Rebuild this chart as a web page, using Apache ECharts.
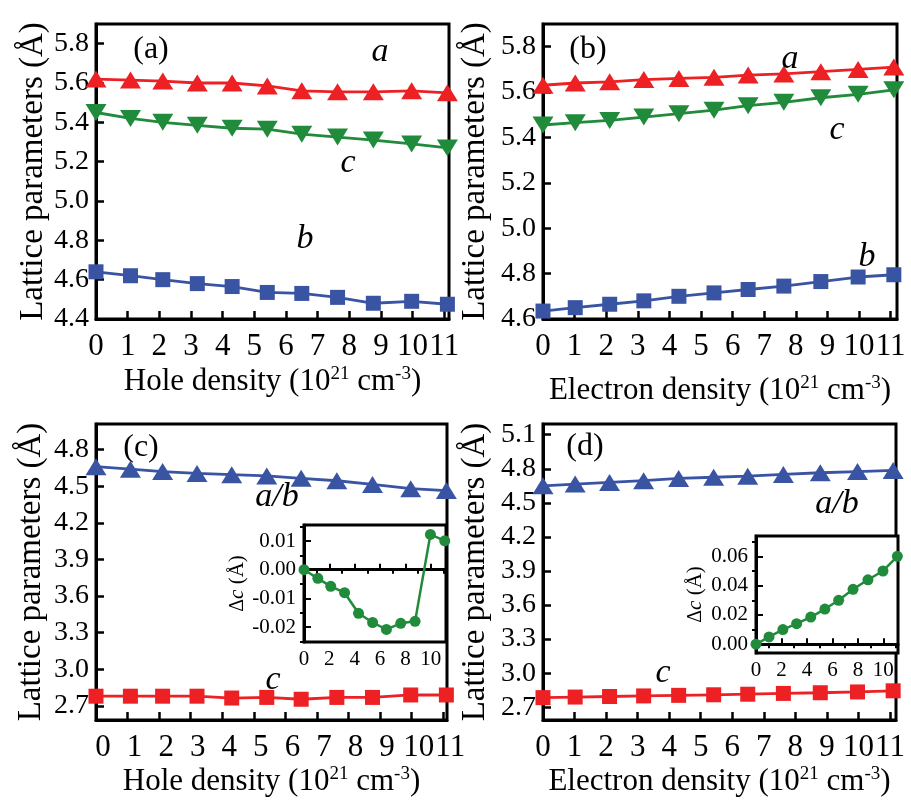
<!DOCTYPE html>
<html>
<head>
<meta charset="utf-8">
<script src="https://cdn.jsdelivr.net/npm/echarts@6/dist/echarts.min.js"></script>
<style>
html,body{margin:0;padding:0;background:#fff;}
#chart{width:911px;height:802px;}
</style>
</head>
<body>
<div id="chart"></div>
<script>
// ---------- data ----------
const holeX = [0, 1.09, 2.11, 3.2, 4.3, 5.41, 6.5, 7.63, 8.76, 9.97, 11.1];
const elecX = [0, 1.02, 2.11, 3.19, 4.3, 5.41, 6.49, 7.62, 8.79, 9.97, 11.1];

// panel (a): hole doping, a / c / b
const holeA = [5.62, 5.615, 5.61, 5.60, 5.60, 5.585, 5.56, 5.555, 5.555, 5.56, 5.55];
const holeC = [5.45, 5.42, 5.40, 5.385, 5.37, 5.365, 5.34, 5.325, 5.31, 5.29, 5.27];
const holeB = [4.64, 4.62, 4.60, 4.58, 4.565, 4.535, 4.53, 4.51, 4.48, 4.49, 4.475];

// panel (b): electron doping, a / c / b
const elecA = [5.63, 5.64, 5.645, 5.655, 5.66, 5.665, 5.675, 5.68, 5.69, 5.70, 5.71];
const elecC = [5.455, 5.465, 5.475, 5.49, 5.505, 5.52, 5.54, 5.555, 5.575, 5.59, 5.61];
const elecB = [4.635, 4.65, 4.665, 4.68, 4.70, 4.715, 4.73, 4.745, 4.765, 4.785, 4.795];

// panel (c): hole doping, a/b and c
const holeAB = [4.66, 4.64, 4.62, 4.605, 4.595, 4.585, 4.565, 4.545, 4.515, 4.48, 4.465];
const holeCt = [2.78, 2.78, 2.78, 2.78, 2.765, 2.77, 2.755, 2.77, 2.77, 2.79, 2.79];

// panel (d): electron doping, a/b and c
const elecAB = [4.65, 4.665, 4.68, 4.695, 4.715, 4.725, 4.735, 4.75, 4.765, 4.775, 4.785];
const elecCt = [2.785, 2.79, 2.795, 2.80, 2.805, 2.81, 2.815, 2.822, 2.828, 2.835, 2.845];

// insets: delta c
const holeDc = [0, -0.003, -0.0058, -0.008, -0.0152, -0.0184, -0.0208, -0.0187, -0.018, 0.0123, 0.0101];
const elecDc = [0, 0.005, 0.010, 0.014, 0.0185, 0.024, 0.030, 0.0375, 0.044, 0.050, 0.060];

// tick values
const xTicks = [0, 1, 2, 3, 4, 5, 6, 7, 8, 9, 10, 11];
const yTicksA = [4.4, 4.6, 4.8, 5.0, 5.2, 5.4, 5.6, 5.8];
const yTicksB = [4.6, 4.8, 5.0, 5.2, 5.4, 5.6, 5.8];
const yTicksC = [2.7, 3.0, 3.3, 3.6, 3.9, 4.2, 4.5, 4.8];
const yTicksD = [2.7, 3.0, 3.3, 3.6, 3.9, 4.2, 4.5, 4.8, 5.1];
const insetXMajor = [0, 2, 4, 6, 8, 10];
const insetXMinor = [1, 3, 5, 7, 9, 11];
const insetYMajorC = [-0.02, -0.01, 0, 0.01];
const insetYMinorC = [-0.025, -0.015, -0.005, 0.005, 0.015];
const insetYMajorD = [0, 0.02, 0.04, 0.06];
const insetYMinorD = [0.01, 0.03, 0.05, 0.07];

// ---------- style ----------
const FONT = 'Liberation Serif';
const RED = '#ED2024', GREEN = '#1F8B3B', BLUE = '#3A54A4';
const supRich = { sup: { fontSize: 19, fontFamily: FONT, color: '#000', verticalAlign: 'top', lineHeight: 34 } };

function pairs(xs, ys) { return xs.map((x, i) => [x, ys[i]]); }

const grids = [
  { left: 96, top: 24, width: 353, height: 295 },   // a
  { left: 543, top: 24, width: 354, height: 295 },  // b
  { left: 96, top: 424, width: 351, height: 296 },  // c
  { left: 543, top: 424, width: 353, height: 296 }, // d
  { left: 304, top: 525, width: 142, height: 117 }, // inset c
  { left: 756, top: 536, width: 142, height: 117 }  // inset d
].map(g => Object.assign({ show: true, borderColor: '#000', borderWidth: 3, backgroundColor: 'rgba(255,255,255,0)', containLabel: false }, g));
grids[4].backgroundColor = '#fff';
grids[5].backgroundColor = '#fff';

const xAxes = [], yAxes = [];
function mainX(gi, max, name, gap, labelPad) {
  xAxes.push({
    gridIndex: gi, type: 'value', min: 0, max: max,
    name: name, nameLocation: 'middle', nameGap: gap,
    nameTextStyle: { fontFamily: FONT, fontSize: 31, color: '#000', lineHeight: 34, rich: supRich },
    axisLine: { show: true, lineStyle: { color: '#000', width: 3 } },
    axisTick: { show: true, inside: true, length: 8, lineStyle: { color: '#000', width: 2.5 }, customValues: xTicks },
    axisLabel: { show: true, fontFamily: FONT, fontSize: 31, color: '#000', margin: 12, customValues: xTicks,
      padding: labelPad || 0, formatter: v => String(Math.round(v)) },
    splitLine: { show: false }
  });
  return xAxes.length - 1;
}
function mainY(gi, min, max, ticks, gap) {
  yAxes.push({
    gridIndex: gi, type: 'value', min: min, max: max,
    name: 'Lattice parameters (Å)', nameLocation: 'middle', nameGap: gap,
    nameTextStyle: { fontFamily: FONT, fontSize: 33, color: '#000' },
    axisLine: { show: true, lineStyle: { color: '#000', width: 3 } },
    axisTick: { show: true, inside: true, length: 8, lineStyle: { color: '#000', width: 2.5 }, customValues: ticks },
    axisLabel: { show: true, fontFamily: FONT, fontSize: 28, color: '#000', margin: 7, customValues: ticks,
      formatter: v => v.toFixed(1) },
    splitLine: { show: false }
  });
  return yAxes.length - 1;
}
function insetX(gi, max) {
  xAxes.push({
    gridIndex: gi, type: 'value', min: 0, max: max,
    axisLine: { show: true, lineStyle: { color: '#000', width: 3 } },
    axisTick: { show: true, inside: true, length: 6, lineStyle: { color: '#000', width: 2 }, customValues: insetXMajor },
    axisLabel: { show: true, fontFamily: FONT, fontSize: 21, color: '#000', margin: 7, customValues: insetXMajor,
      formatter: v => String(Math.round(v)) },
    splitLine: { show: false }
  });
  const major = xAxes.length - 1;
  xAxes.push({
    gridIndex: gi, type: 'value', min: 0, max: max,
    axisLine: { show: false }, axisLabel: { show: false }, splitLine: { show: false },
    axisTick: { show: true, inside: true, length: 4, lineStyle: { color: '#000', width: 2 }, customValues: insetXMinor }
  });
  return major;
}
function insetY(gi, min, max, major, minor, gap) {
  yAxes.push({
    gridIndex: gi, type: 'value', min: min, max: max,
    name: '{n|Δ}{i|c} (Å)', nameLocation: 'middle', nameGap: gap,
    nameTextStyle: { fontFamily: FONT, fontSize: 21, color: '#000',
      rich: { n: { fontFamily: FONT, fontSize: 20, color: '#000' }, i: { fontFamily: FONT, fontSize: 21, fontStyle: 'italic', color: '#000' } } },
    axisLine: { show: true, lineStyle: { color: '#000', width: 3 } },
    axisTick: { show: true, inside: true, length: 7, lineStyle: { color: '#000', width: 2 }, customValues: major },
    axisLabel: { show: true, fontFamily: FONT, fontSize: 21, color: '#000', margin: 8, customValues: major,
      formatter: v => v.toFixed(2) },
    splitLine: { show: false }
  });
  const idx = yAxes.length - 1;
  yAxes.push({
    gridIndex: gi, type: 'value', min: min, max: max,
    axisLine: { show: false }, axisLabel: { show: false }, splitLine: { show: false },
    axisTick: { show: true, inside: true, length: 4, lineStyle: { color: '#000', width: 2 }, customValues: minor }
  });
  return idx;
}

const holeName = 'Hole density (10{sup|21} cm{sup|-3})';
const elecName = 'Electron density (10{sup|21} cm{sup|-3})';

const xa = mainX(0, 11.15, holeName, 46);
const ya = mainY(0, 4.4, 5.9, yTicksA, 45);
const xb = mainX(1, 11.2, elecName, 55);
const yb = mainY(1, 4.6, 5.9, yTicksB, 51);
const xc = mainX(2, 11.12, holeName, 45, [0, 0, 0, 14]);
const yc = mainY(2, 2.585, 5.01, yTicksC, 48);
const xd = mainX(3, 11.19, elecName, 45);
const yd = mainY(3, 2.588, 5.194, yTicksD, 51);
const xic = insetX(4, 11.2);
const yic = insetY(4, -0.0252, 0.0156, insetYMajorC, insetYMinorC, 49);
const xid = insetX(5, 11.15);
const yid = insetY(5, -0.006, 0.0739, insetYMajorD, insetYMinorD, 50);

function lineSeries(xi, yi, data, color, symbol, size, rotate, width) {
  return {
    type: 'line', xAxisIndex: xi, yAxisIndex: yi, data: data,
    symbol: symbol, symbolSize: size, symbolRotate: rotate || 0, showSymbol: true,
    lineStyle: { color: color, width: width || 2.8 },
    itemStyle: { color: color, borderWidth: 0 },
    emphasis: { disabled: true }, z: 3
  };
}

const TRI = [21, 17], SQ = 15;
const series = [
  lineSeries(xa, ya, pairs(holeX, holeA), RED, 'triangle', TRI),
  lineSeries(xa, ya, pairs(holeX, holeC), GREEN, 'triangle', TRI, 180),
  lineSeries(xa, ya, pairs(holeX, holeB), BLUE, 'rect', SQ),
  lineSeries(xb, yb, pairs(elecX, elecA), RED, 'triangle', TRI),
  lineSeries(xb, yb, pairs(elecX, elecC), GREEN, 'triangle', TRI, 180),
  lineSeries(xb, yb, pairs(elecX, elecB), BLUE, 'rect', SQ),
  lineSeries(xc, yc, pairs(holeX, holeAB), BLUE, 'triangle', TRI),
  lineSeries(xc, yc, pairs(holeX, holeCt), RED, 'rect', SQ),
  lineSeries(xd, yd, pairs(elecX, elecAB), BLUE, 'triangle', TRI),
  lineSeries(xd, yd, pairs(elecX, elecCt), RED, 'rect', SQ),
  lineSeries(xic, yic, pairs(holeX, holeDc), GREEN, 'circle', 11, 0, 2.5),
  lineSeries(xid, yid, pairs(elecX, elecDc), GREEN, 'circle', 11, 0, 2.5)
];

function label(text, x, y, italic, size) {
  return { type: 'text', x: x, y: y, z: 100, silent: true,
    style: { text: text, fill: '#000', font: (italic ? 'italic ' : '') + (size || 34) + 'px "' + FONT + '"',
      align: 'center', verticalAlign: 'middle' } };
}

const graphic = [
  label('(a)', 151, 50, false, 32), label('a', 380, 52, true), label('c', 348, 163, true), label('b', 305, 239, true),
  label('(b)', 588, 50, false, 32), label('a', 790, 59, true), label('c', 837, 130, true), label('b', 867, 257, true),
  label('(c)', 141, 448, false, 32), label('a/b', 277, 497, true), label('c', 273, 680, true),
  label('(d)', 585, 447, false, 32), label('a/b', 837, 504, true), label('c', 663, 673, true)
];

const chart = echarts.init(document.getElementById('chart'), null, { renderer: 'canvas' });
chart.setOption({
  backgroundColor: '#fff',
  animation: false,
  grid: grids,
  xAxis: xAxes,
  yAxis: yAxes,
  series: series,
  graphic: graphic
});
</script>
</body>
</html>
